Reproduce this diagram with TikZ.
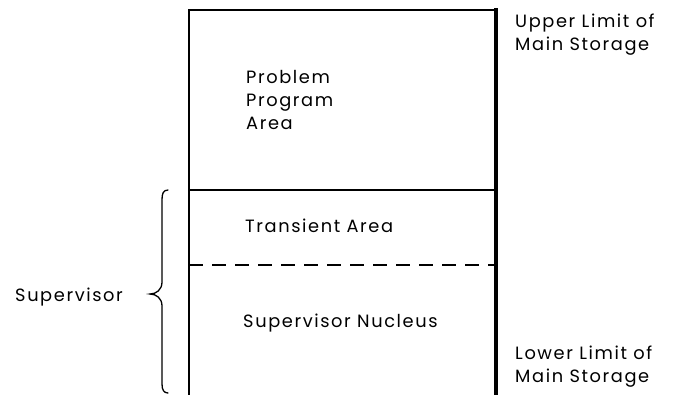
\documentclass[tikz,border=0pt]{standalone}
\usepackage{fontspec}
\setmainfont{Poppins}[LetterSpace=9]
\begin{document}
\begin{tikzpicture}[x=1pt,y=-1pt,
  txt/.style={anchor=base west, inner sep=0pt, align=left,
    font=\fontsize{17.8}{23}\selectfont},
  frame/.style={line cap=rect},
  divider/.style={line width=1.3pt},
  brace/.style={line width=1.3pt, line cap=round}]
\useasboundingbox (0,0) rectangle (684,394);

% storage column
\coordinate (tl) at (189,10);
\coordinate (tr) at (496,10);
\coordinate (bl) at (189,394);
\coordinate (br) at (496,394);
\coordinate (sl) at (189,190);
\coordinate (sr) at (496,190);
\coordinate (dl) at (189,265);
\coordinate (dr) at (496,265);

\draw[frame, line width=1.5pt] (bl) -- (tl);
\draw[frame, line width=2.4pt] (tl) -- (tr);
\draw[frame, line width=3.6pt] (tr) -- (br);
\draw[divider] (sl) -- (sr);
\draw[divider, dash pattern=on 14pt off 9pt] (dl) -- (dr);

% region labels (base anchor sits on the last line)
\node[txt] (prob) at (246,129) {Problem\\Program\\Area};
\node[txt] (trans) at (245,232) {Transient Area};
\node[txt] (nuc) at (243,327) {Supervisor Nucleus};

% limits
\node[txt] (upper) at (515,50) {Upper Limit of\\Main Storage};
\node[txt] (lower) at (515,382) {Lower Limit of\\Main Storage};

% supervisor brace
\node[txt] (sup) at (15,301) {Supervisor};
\coordinate (btop) at (168,190);
\coordinate (btip) at (150,294);
\coordinate (bbot) at (168,393);
\draw[brace] (btop) .. controls (163,190) and (162,194) .. (162,200)
  -- (162,282) .. controls (162,290) and (156,294) .. (btip)
  .. controls (156,294) and (162,298) .. (162,306)
  -- (162,384) .. controls (162,390) and (164,393) .. (bbot);
\end{tikzpicture}
\end{document}
